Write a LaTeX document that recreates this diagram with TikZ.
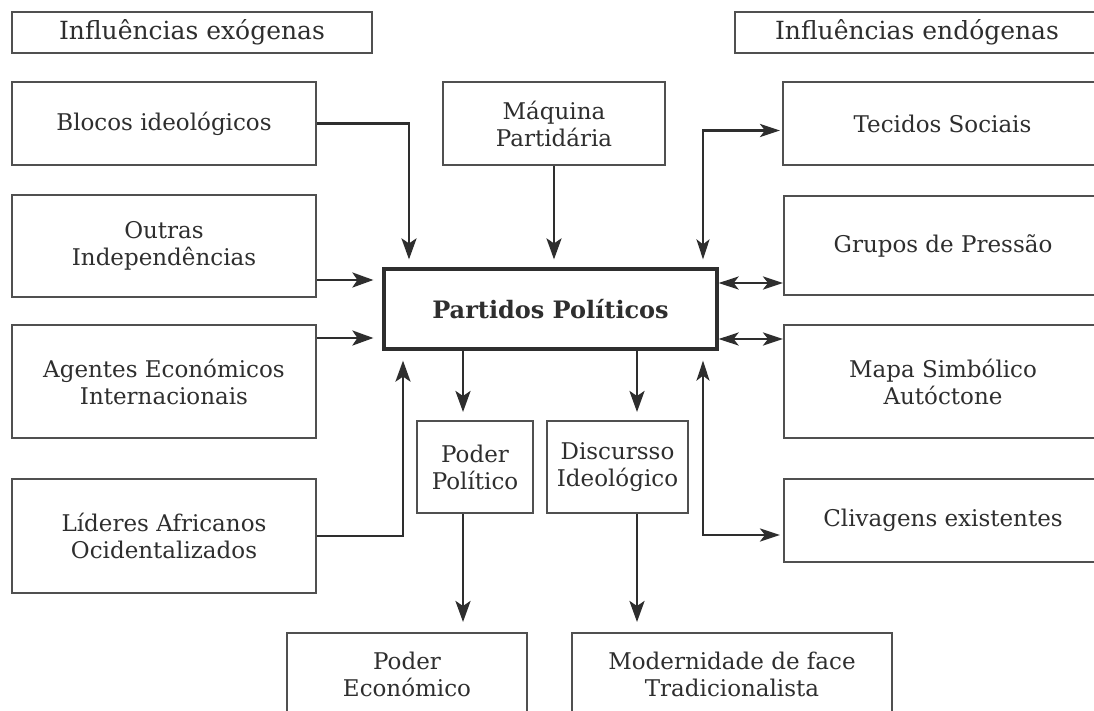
\documentclass[tikz,border=0pt]{standalone}
\usepackage{fontspec}
\setmainfont{DejaVu Serif}
\usetikzlibrary{arrows.meta}
\definecolor{ink}{HTML}{2E2E2E}
\definecolor{frame}{HTML}{505050}
\begin{document}
\begin{tikzpicture}[x=1pt,y=-1pt,
  box/.style={draw=frame, line width=2pt, text=ink, align=center, inner sep=0pt,
              font=\fontsize{23}{27}\selectfont},
  arr/.style={draw=ink, line width=2.8pt, -{Stealth[length=21pt,width=15pt,inset=5pt]}},
  darr/.style={draw=ink, line width=2.8pt, {Stealth[length=20pt,width=13pt,inset=5pt]}-{Stealth[length=20pt,width=13pt,inset=5pt]}}]
\useasboundingbox (0,0) rectangle (1094,710);
\clip (0,0) rectangle (1094,710);
\fill[white] (0,0) rectangle (1094,710);

% top labels
\node[box, minimum width=360pt, minimum height=41pt, font=\fontsize{25}{27}\selectfont] (exo) at (192,32.5) {Influências exógenas};
\node[box, minimum width=364pt, minimum height=41pt, font=\fontsize{25}{27}\selectfont] (endo) at (917,32.5) {Influências endógenas};

% left column
\node[box, minimum width=304pt, minimum height=83pt] (blocos) at (164,123.5) {Blocos ideológicos};
\node[box, minimum width=304pt, minimum height=102pt] (outras) at (164,246) {Outras\\Independências};
\node[box, minimum width=304pt, minimum height=113pt] (agentes) at (164,381.5) {Agentes Económicos\\Internacionais};
\node[box, minimum width=304pt, minimum height=114pt] (lideres) at (164,536) {Líderes Africanos\\Ocidentalizados};

% centre
\node[box, minimum width=222pt, minimum height=83pt] (maquina) at (554,123.5) {Máquina\\Partidária};
\node[box, draw=ink, line width=3.2pt, minimum width=333pt, minimum height=80pt,
      font=\fontsize{24}{27}\selectfont\bfseries] (partidos) at (550.5,309) {Partidos Políticos};
\node[box, minimum width=116pt, minimum height=92pt] (poderpol) at (475,467) {Poder\\Político};
\node[box, minimum width=141pt, minimum height=92pt] (discurso) at (617.5,467) {Discursso\\Ideológico};
\node[box, minimum width=240pt, minimum height=82pt] (podereco) at (407,674) {Poder\\Económico};
\node[box, minimum width=320pt, minimum height=82pt] (modern) at (732,674) {Modernidade de face\\Tradicionalista};

% right column
\node[box, minimum width=319pt, minimum height=83pt] (tecidos) at (942.5,123.5) {Tecidos Sociais};
\node[box, minimum width=318pt, minimum height=99pt] (grupos) at (943,245.5) {Grupos de Pressão};
\node[box, minimum width=318pt, minimum height=113pt] (mapa) at (943,381.5) {Mapa Simbólico\\Autóctone};
\node[box, minimum width=318pt, minimum height=83pt] (clivagens) at (943,520.5) {Clivagens existentes};

% helper coordinates
\coordinate (xa) at (409,0);
\coordinate (xb) at (703,0);
\coordinate (xd) at (403,0);
\coordinate (xe) at (463,0);
\coordinate (xf) at (637,0);
\coordinate (ya) at (0,280);
\coordinate (yb) at (0,338);
\coordinate (yc) at (0,283);
\coordinate (yd) at (0,339);

% connectors
\draw[arr, shorten >=8pt] (blocos.east) -| (xa |- partidos.north);
\draw[arr, shorten >=8pt] (maquina.south) -- (maquina.south |- partidos.north);
\draw[darr, shorten <=8pt, shorten >=2pt] (xb |- partidos.north) |- ([yshift=-7pt]tecidos.west);
\draw[arr, shorten >=9pt] (outras.east |- ya) -- (partidos.west |- ya);
\draw[arr, shorten >=9pt] (agentes.east |- yb) -- (partidos.west |- yb);
\draw[darr] (partidos.east |- yc) -- (grupos.west |- yc);
\draw[darr] (partidos.east |- yd) -- (mapa.west |- yd);
\draw[arr, shorten >=10pt] (lideres.east) -| (xd |- partidos.south);
\draw[darr, shorten <=10pt, shorten >=3pt] (xb |- partidos.south) |- ([yshift=-14.5pt]clivagens.west);
\draw[arr, shorten >=8pt] (xe |- partidos.south) -- (xe |- poderpol.north);
\draw[arr, shorten >=8pt] (xf |- partidos.south) -- (xf |- discurso.north);
\draw[arr, shorten >=10pt] (xe |- poderpol.south) -- (xe |- podereco.north);
\draw[arr, shorten >=10pt] (xf |- discurso.south) -- (xf |- modern.north);
\end{tikzpicture}
\end{document}
